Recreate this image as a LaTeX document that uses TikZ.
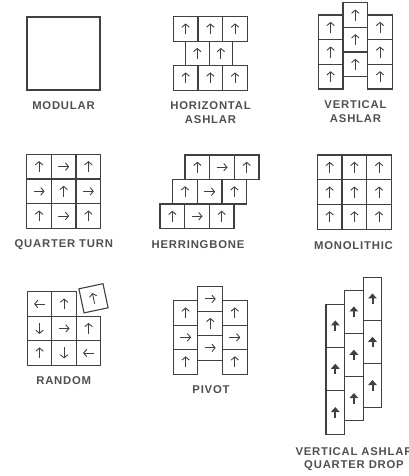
\documentclass[tikz,border=0pt]{standalone}
\usepackage{fontspec}
\setmainfont{Liberation Sans}
\newfontfamily\lblfont[LetterSpace=7]{Liberation Sans}
\usetikzlibrary{arrows.meta}
\definecolor{ln}{HTML}{404040}
\definecolor{tx}{HTML}{505050}
\newcommand\tl[5]{%
  \draw[tilebox] (#1,#2) rectangle ++(#3,#4);
  \draw[arr,shift={({#1+#3/2},{#2+#4/2})},rotate=#5] (0,5.5) -- (0,-5.5);
}
\newcommand\btl[4]{%
  \draw[tilebox] (#1,#2) rectangle ++(#3,#4);
  \draw[barr,shift={({#1+#3/2},{#2+#4/2})}] (0,5) -- (0,-5.5);
}
\begin{document}
\begin{tikzpicture}[x=1pt,y=-1pt,
  tilebox/.style={draw=ln,line width=1.1pt},
  arr/.style={draw=ln,line width=0.9pt,-{Straight Barb[length=3.2pt,width=7.5pt,line width=0.9pt]}},
  barr/.style={draw=ln,line width=2pt,-{Triangle[length=5pt,width=8.5pt]}},
  lbl/.style={font={\lblfont\fontsize{11.3}{13.3}\selectfont\bfseries}, text=tx, inner sep=0pt, align=center},
]
\useasboundingbox (0,0) rectangle (409,476);

% MODULAR
\draw[tilebox] (27,17) rectangle (100,90);
\node[lbl] (lmod) at (63.5,106) {MODULAR};

% HORIZONTAL ASHLAR
\foreach \i in {0,1,2}{
  \tl{173.3+24.67*\i}{16.7}{24.67}{24.5}{0}
  \tl{173.3+24.67*\i}{65.7}{24.67}{24.5}{0}
}
\foreach \i in {0,1}{\tl{185.5+23.6*\i}{41.2}{23.6}{24.5}{0}}
\node[lbl] (lhor) at (210.5,112.5) {HORIZONTAL\\ASHLAR};

% VERTICAL ASHLAR
\foreach \j in {0,1,2}{
  \tl{318.3}{15+24.67*\j}{24.67}{24.67}{0}
  \tl{343}{2.7+24.67*\j}{24.67}{24.67}{0}
  \tl{367.67}{15+24.67*\j}{24.67}{24.67}{0}
}
\node[lbl] (lver) at (355.5,111.5) {VERTICAL\\ASHLAR};

% QUARTER TURN
\tl{26.7}{154.3}{24.67}{24.67}{0}
\tl{51.37}{154.3}{24.67}{24.67}{-90}
\tl{76.04}{154.3}{24.67}{24.67}{0}
\tl{26.7}{178.97}{24.67}{24.67}{-90}
\tl{51.37}{178.97}{24.67}{24.67}{0}
\tl{76.04}{178.97}{24.67}{24.67}{-90}
\tl{26.7}{203.64}{24.67}{24.67}{0}
\tl{51.37}{203.64}{24.67}{24.67}{-90}
\tl{76.04}{203.64}{24.67}{24.67}{0}
\node[lbl] (lqt) at (63.8,244.5) {QUARTER TURN};

% HERRINGBONE
\foreach \x/\y in {185/155, 172.7/179.5, 160/204}{
  \tl{\x}{\y}{24.67}{24.5}{0}
  \tl{\x+24.67}{\y}{24.67}{24.5}{-90}
  \tl{\x+49.34}{\y}{24.67}{24.5}{0}
}
\node[lbl] (lher) at (198,244.5) {HERRINGBONE};

% MONOLITHIC
\foreach \i in {0,1,2}{\foreach \j in {0,1,2}{
  \tl{317.3+24.7*\i}{155+24.7*\j}{24.7}{24.7}{0}
}}
\node[lbl] (lmon) at (353.5,246) {MONOLITHIC};

% RANDOM
\tl{27.3}{291.7}{24.5}{24.5}{90}
\tl{51.8}{291.7}{24.5}{24.5}{0}
\tl{27.3}{316.2}{24.5}{24.5}{180}
\tl{51.8}{316.2}{24.5}{24.5}{-90}
\tl{76.3}{316.2}{24.5}{24.5}{0}
\tl{27.3}{340.7}{24.5}{24.5}{0}
\tl{51.8}{340.7}{24.5}{24.5}{180}
\tl{76.3}{340.7}{24.5}{24.5}{90}
\begin{scope}[shift={(93.5,298.3)},rotate=12]
  \draw[tilebox] (-12.3,-12.3) rectangle (12.3,12.3);
  \draw[arr] (0,5.5) -- (0,-5.5);
\end{scope}
\node[lbl] (lran) at (63.7,381) {RANDOM};

% PIVOT
\tl{173.3}{300.7}{24.6}{24.45}{0}
\tl{173.3}{325.15}{24.6}{24.45}{-90}
\tl{173.3}{349.6}{24.6}{24.45}{0}
\tl{197.9}{286.7}{24.6}{24.45}{-90}
\tl{197.9}{311.15}{24.6}{24.45}{0}
\tl{197.9}{335.6}{24.6}{24.45}{-90}
\tl{222.5}{300.7}{24.6}{24.45}{0}
\tl{222.5}{325.15}{24.6}{24.45}{-90}
\tl{222.5}{349.6}{24.6}{24.45}{0}
\node[lbl] (lpiv) at (211,389.5) {PIVOT};

% VERTICAL ASHLAR QUARTER DROP
\foreach \x/\y in {326/304.3, 344.6/290.3, 363.2/277.3}{
  \foreach \j in {0,1,2}{\btl{\x}{\y+43.3*\j}{18.6}{43.3}}
}
\node[lbl] (lvaq) at (354,459.3) {VERTICAL ASHLAR\\QUARTER DROP};
\end{tikzpicture}
\end{document}
